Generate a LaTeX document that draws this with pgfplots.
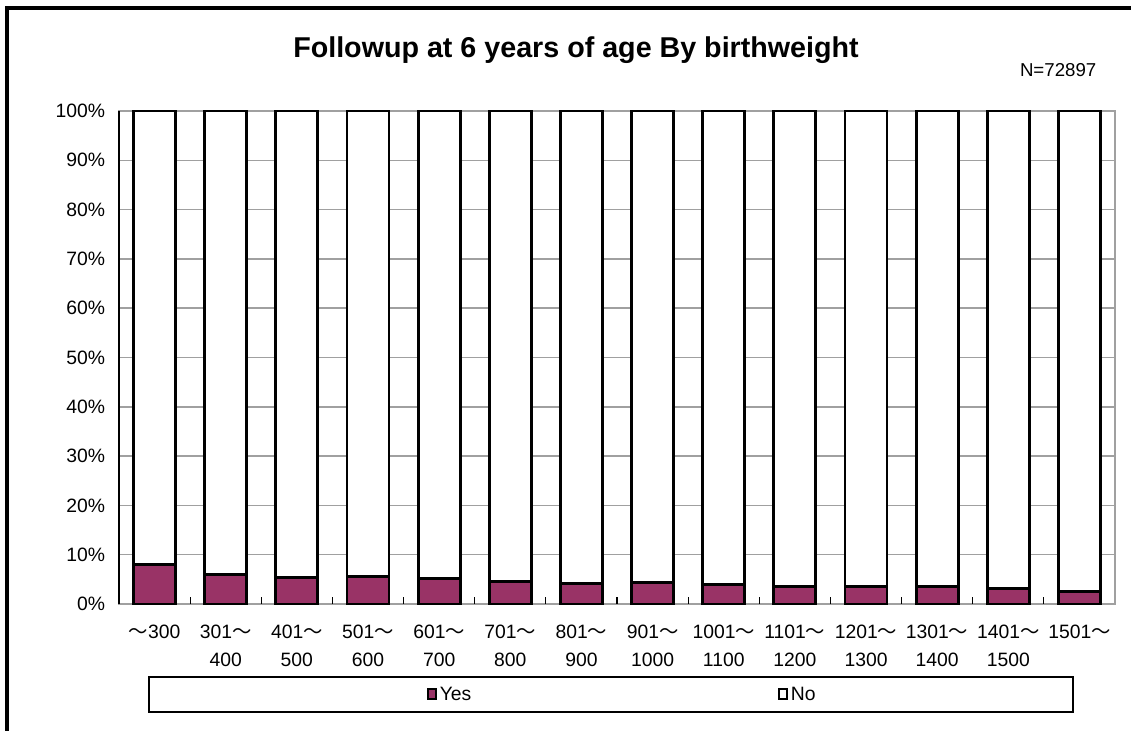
\documentclass[border=0pt]{standalone}
\usepackage{pgfplots}
\pgfplotsset{compat=1.18}
\usepackage{fontspec}
\setmainfont{Liberation Sans}
\newfontfamily\cjk{Noto Sans CJK JP}
\definecolor{plum}{HTML}{993366}
\definecolor{gridgray}{HTML}{A0A0A0}
\newcommand{\tl}{{\cjk ～}}
\begin{document}
\begin{tikzpicture}[x=0.75pt,y=0.75pt]
\useasboundingbox (0,0) rectangle (1131,731);
\draw[line width=2.4pt] (7,-5) -- (7,723) -- (1136,723);
\node[font=\bfseries\fontsize{21.5}{24}\selectfont] at (576,681) {Followup at 6 years of age By birthweight};
\node[font=\fontsize{14}{16}\selectfont, anchor=east] at (1101,661) {N=72897};
\begin{axis}[
  at={(89.25pt,95.25pt)}, anchor=south west,
  scale only axis, width=747pt, height=369.75pt,
  ybar stacked, bar width=31.5pt,
  xmin=-0.5, xmax=13.5, ymin=0, ymax=100,
  clip=false,
  axis line style={draw=gridgray, line width=1.1pt},
  ytick={0,10,...,100},
  yticklabels={0\%,10\%,20\%,30\%,40\%,50\%,60\%,70\%,80\%,90\%,100\%},
  ymajorgrids, grid style={draw=gridgray, line width=1.1pt},
  major tick length=0pt,
  xtick pos=bottom, ytick pos=left,
  xtick={0,...,13},
  xticklabels={
    \tl300,
    301\tl\\400, 401\tl\\500, 501\tl\\600, 601\tl\\700, 701\tl\\800,
    801\tl\\900, 901\tl\\1000, 1001\tl\\1100, 1101\tl\\1200, 1201\tl\\1300,
    1301\tl\\1400, 1401\tl\\1500, 1501\tl},
  extra x ticks={0.5,1.5,...,12.5},
  extra x tick labels={},
  extra x tick style={major tick length=5pt, tick align=inside,
    major tick style={draw=black, line width=0.9pt}, grid=none},
  tick style={draw=black},
  xticklabel style={font=\fontsize{14.5}{21}\selectfont, align=center, anchor=north, yshift=-12pt},
  yticklabel style={font=\fontsize{14.5}{16}\selectfont, anchor=east, xshift=-7pt},
  legend columns=2,
  legend style={draw=none, fill=none, at={(0.309,-0.1836)}, anchor=west,
    font=\fontsize{14.5}{16}\selectfont,
    /tikz/every even column/.append style={column sep=228pt},
    inner sep=0pt},
  legend image code/.code={\draw[#1, line width=1.6pt] (0pt,-3.6pt) rectangle (6pt,4.2pt);},
]
\addplot[fill=plum, draw=black, line width=2.2pt] coordinates {
(0,8.1) (1,5.9) (2,5.4) (3,5.5) (4,5.2) (5,4.6) (6,4.2) (7,4.3) (8,4.0) (9,3.5) (10,3.5) (11,3.5) (12,3.2) (13,2.5)};
\addlegendentry{Yes}
\addplot[fill=white, draw=black, line width=2.2pt] coordinates {
(0,91.9) (1,94.1) (2,94.6) (3,94.5) (4,94.8) (5,95.4) (6,95.8) (7,95.7) (8,96.0) (9,96.5) (10,96.5) (11,96.5) (12,96.8) (13,97.5)};
\addlegendentry{No}
\draw[black, line width=1.1pt] (rel axis cs:0,0) -- (rel axis cs:0,1);
\draw[black, line width=0.9pt] (rel axis cs:0.0301,-0.148) rectangle (rel axis cs:0.9578,-0.219);
\end{axis}
\end{tikzpicture}
\end{document}
